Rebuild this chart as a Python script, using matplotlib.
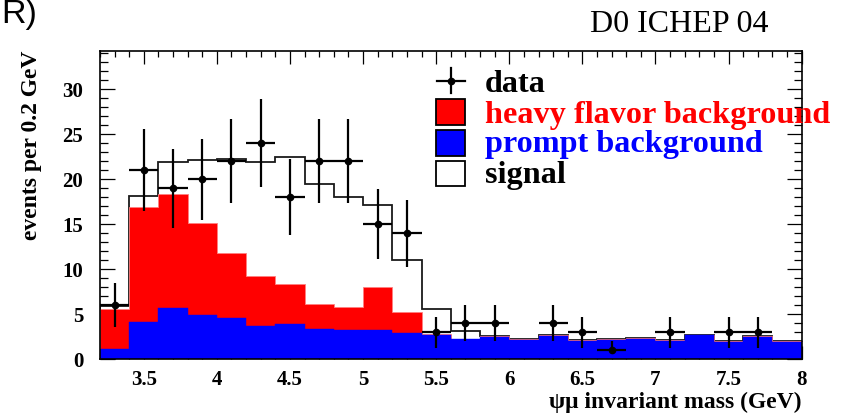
import numpy as np
import matplotlib
matplotlib.use("Agg")
import matplotlib.pyplot as plt
from matplotlib.patches import Rectangle
from matplotlib.lines import Line2D
from matplotlib.ticker import MultipleLocator

# ---------------- data ----------------
bin_edges = [3.2, 3.4, 3.6, 3.8, 4.0, 4.2, 4.4, 4.6, 4.8, 5.0, 5.2, 5.4, 5.6,
             5.8, 6.0, 6.2, 6.4, 6.6, 6.8, 7.0, 7.2, 7.4, 7.6, 7.8, 8.0]
prompt_bkg = [1.15, 4.1, 5.7, 4.9, 4.6, 3.7, 3.9, 3.4, 3.3, 3.3, 2.9, 2.65,
              2.2, 2.5, 2.15, 2.6, 2.05, 2.15, 2.3, 2.05, 2.7, 1.95, 2.5, 1.95]
heavy_bkg = [4.4, 12.8, 12.7, 10.2, 7.2, 5.6, 4.5, 2.7, 2.55, 4.75, 2.4, 0.15,
             0.1, 0.05, 0.05, 0.05, 0.05, 0.1, 0.05, 0.05, 0.05, 0.05, 0.05, 0.05]
signal = [0.35, 1.2, 3.5, 7.0, 10.5, 12.6, 14.1, 13.4, 12.15, 9.05, 5.7, 2.8,
          0.8, 0.0, 0.0, 0.0, 0.0, 0.0, 0.0, 0.0, 0.0, 0.0, 0.0, 0.0]

data_x = [3.3, 3.5, 3.7, 3.9, 4.1, 4.3, 4.5, 4.7, 4.9, 5.1, 5.3, 5.5, 5.7,
          5.9, 6.3, 6.5, 6.7, 7.1, 7.5, 7.7]
data_y = [6, 21, 19, 20, 22, 24, 18, 22, 22, 15, 14, 3, 4, 4, 4, 3, 1, 3, 3, 3]
data_err_lo = [2.45, 4.58, 4.36, 4.47, 4.69, 4.9, 4.24, 4.69, 4.69, 3.87, 3.74,
               1.73, 2.0, 2.0, 2.0, 1.73, 0.2, 1.73, 1.73, 1.73]
data_err_hi = [2.45, 4.58, 4.36, 4.47, 4.69, 4.9, 4.24, 4.69, 4.69, 3.87, 3.74,
               1.73, 2.0, 2.0, 2.0, 1.73, 1.0, 1.73, 1.73, 1.73]
data_xerr = [0.1] * len(data_x)

x_ticks = [3.5, 4, 4.5, 5, 5.5, 6, 6.5, 7, 7.5, 8]
x_tick_labels = ["3.5", "4", "4.5", "5", "5.5", "6", "6.5", "7", "7.5", "8"]
y_ticks = [0, 5, 10, 15, 20, 25, 30]
y_tick_labels = ["0", "5", "10", "15", "20", "25", "30"]

legend_labels = ["data", "heavy flavor background", "prompt background", "signal"]
legend_colors = ["black", "#ff0000", "#0000ff", "black"]

SERIF = "Liberation Serif"
W, H = 841, 416

fig = plt.figure(figsize=(W / 100, H / 100), dpi=100)
ax_l, ax_r, ax_t, ax_b = 99.9, 801.7, 51.0, 359.3
ax = fig.add_axes([ax_l / W, 1 - ax_b / H, (ax_r - ax_l) / W, (ax_b - ax_t) / H])

edges = np.array(bin_edges)
blue = np.array(prompt_bkg)
red_top = blue + np.array(heavy_bkg)
total = red_top + np.array(signal)

ax.stairs(total, edges, baseline=0, fill=False, color="#1a1a1a", lw=1.3, zorder=2)
ax.stairs(red_top, edges, baseline=0, fill=True, facecolor="#ff0000",
          edgecolor="#ff8080", lw=0.6, zorder=3)
ax.stairs(blue, edges, baseline=0, fill=True, facecolor="#0000ff",
          edgecolor="#0000ff", lw=0.3, zorder=4)
ax.errorbar(data_x, data_y, xerr=data_xerr, yerr=[data_err_lo, data_err_hi],
            fmt="o", color="black", ms=4.5, elinewidth=1.6, capsize=0, zorder=6)

ax.set_xlim(3.2, 8.0)
ax.set_ylim(0, 34.25)
ax.set_xticks(x_ticks)
ax.set_xticklabels(x_tick_labels)
ax.set_yticks(y_ticks)
ax.set_yticklabels(y_tick_labels)
ax.xaxis.set_minor_locator(MultipleLocator(0.1))
ax.yaxis.set_minor_locator(MultipleLocator(1))
ax.tick_params(which="both", direction="in", top=True, right=True, width=0.9,
               color="black", zorder=10)
ax.tick_params(axis="x", which="major", length=9.5, pad=8)
ax.tick_params(axis="x", which="minor", length=4.5)
ax.tick_params(axis="y", which="major", length=10.5, pad=12)
ax.tick_params(axis="y", which="minor", length=5.5)
for lab in ax.get_xticklabels() + ax.get_yticklabels():
    lab.set_fontfamily(SERIF)
    lab.set_fontweight("bold")
    lab.set_fontsize(15)
for sp in ax.spines.values():
    sp.set_linewidth(1.2)
    sp.set_zorder(10)

ax.set_xlabel("ψμ invariant mass (GeV)", fontfamily=SERIF, fontweight="bold",
              fontsize=17, loc="right")
ax.xaxis.set_label_coords(1.0, -0.105)
ax.set_ylabel("events per 0.2 GeV", fontfamily=SERIF, fontweight="bold",
              fontsize=17, loc="top")
ax.yaxis.set_label_coords(-0.083, 1.0)


def fx(px):
    return px / W


def fy(py):
    return 1 - py / H


# Header texts
fig.text(fx(1), fy(23), "R)", fontfamily="Liberation Sans", fontsize=24.5,
         va="baseline", ha="left")
fig.text(fx(590), fy(31.5), "D0 ICHEP 04", fontfamily=SERIF, fontsize=23,
         va="baseline", ha="left")

# Legend (drawn manually to follow ROOT layout)
fig.add_artist(Line2D([fx(437), fx(465)], [fy(81), fy(81)], color="black", lw=1.6, zorder=20))
fig.add_artist(Line2D([fx(450.7), fx(450.7)], [fy(68), fy(93)], color="black", lw=1.6, zorder=20))
fig.add_artist(Line2D([fx(450.7)], [fy(81)], marker="o", ms=4.5, color="black", zorder=21))
patch_rows = [(99.3, 125.0, "#ff0000"), (130.0, 156.0, "#0000ff"), (161.0, 186.0, "white")]
for top, bot, col in patch_rows:
    fig.add_artist(Rectangle((fx(436), fy(bot)), fx(465) - fx(436), fy(top) - fy(bot),
                             transform=fig.transFigure, facecolor=col,
                             edgecolor="black", lw=1.3, zorder=20))
baselines = [91.7, 123.0, 151.7, 182.5]
for lab, col, b in zip(legend_labels, legend_colors, baselines):
    fig.text(fx(485), fy(b), lab, color=col, fontfamily=SERIF, fontweight="bold",
             fontsize=23.2, va="baseline", ha="left", zorder=25)

fig.savefig("out.png", dpi=100)
